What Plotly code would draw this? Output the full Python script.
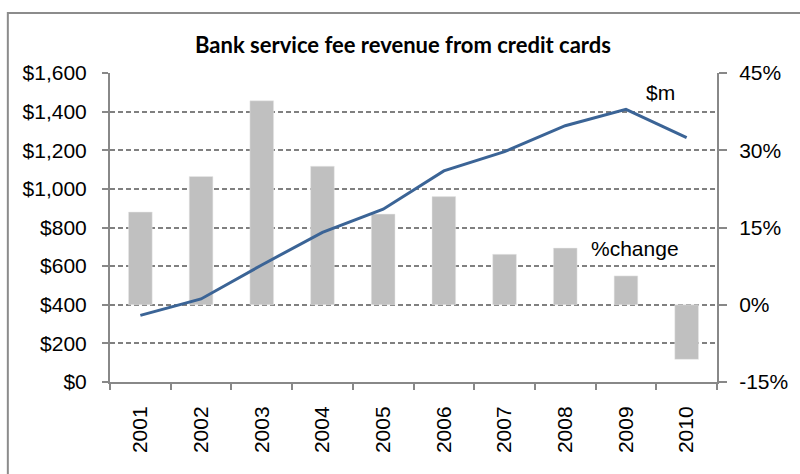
import plotly.graph_objects as go

years = ["2001", "2002", "2003", "2004", "2005", "2006", "2007", "2008", "2009", "2010"]
revenue_m = [345, 430, 606, 775, 895, 1093, 1193, 1327, 1412, 1265]
pct_change = [18.0, 24.9, 39.6, 26.9, 17.6, 21.0, 9.8, 11.0, 5.6, -10.6]

left_ticks = [0, 200, 400, 600, 800, 1000, 1200, 1400, 1600]
left_labels = ["$0", "$200", "$400", "$600", "$800", "$1,000", "$1,200", "$1,400", "$1,600"]
right_ticks = [-15, 0, 15, 30, 45]
right_labels = ["-15%", "0%", "15%", "30%", "45%"]

W, H = 800, 474
ML, MR, MT, MB = 110, 78, 73, 92
PW, PH = W - ML - MR, H - MT - MB

def px_x(x):
    return (x - ML) / PW

def px_y(y):
    return (H - MB - y) / PH

AXIS = "#888888"
GRID = "#808080"
DASH = "5px,3px"
FONT = "Liberation Sans, Arial, sans-serif"
FS = 21

fig = go.Figure()
fig.add_trace(go.Bar(
    x=years, y=pct_change, yaxis="y",
    marker=dict(color="#C0C0C0", line=dict(color="#E8E8E8", width=0.5)),
    name="%change",
))
fig.add_trace(go.Scatter(
    x=years, y=revenue_m, yaxis="y2", mode="lines",
    line=dict(color="#3B6496", width=3),
    name="$m",
))

fig.update_layout(
    width=W, height=H,
    margin=dict(l=ML, r=MR, t=MT, b=MB),
    paper_bgcolor="white", plot_bgcolor="white",
    showlegend=False,
    bargap=0.61,
    font=dict(family=FONT, size=FS, color="black"),
    title=dict(
        text="<b>Bank service fee revenue from credit cards</b>",
        x=403 / W, xanchor="center", y=1 - 45 / H, yanchor="middle",
        font=dict(family="Lato, Open Sans, sans-serif", size=22, color="black"),
    ),
    xaxis=dict(
        type="category", showline=True, linecolor=AXIS, linewidth=2,
        ticks="outside", tickson="boundaries", ticklen=6, tickcolor=AXIS, tickwidth=2,
        tickangle=-90, tickfont=dict(size=FS), showgrid=False,
        ticklabelstandoff=14,
        range=[-0.5, 9.5],
    ),
    yaxis=dict(
        side="right", range=[-15, 45], tickvals=right_ticks, ticktext=right_labels,
        showline=True, linecolor=AXIS, linewidth=2,
        ticks="outside", ticklen=8, tickcolor=AXIS, tickwidth=2,
        showgrid=True, gridcolor=GRID, gridwidth=1.5, griddash=DASH,
        minor=dict(tick0=-15, dtick=7.5, ticks="", showgrid=True,
                   gridcolor=GRID, gridwidth=1.5, griddash=DASH),
        zeroline=False, tickfont=dict(size=FS), ticklabelstandoff=8,
    ),
    yaxis2=dict(
        side="left", overlaying="y", range=[0, 1600],
        tickvals=left_ticks, ticktext=left_labels,
        showline=True, linecolor=AXIS, linewidth=2,
        ticks="outside", ticklen=6, tickcolor=AXIS, tickwidth=2,
        showgrid=False, zeroline=False, tickfont=dict(size=FS),
        ticklabelstandoff=11,
    ),
    shapes=[dict(
        type="rect", xref="paper", yref="paper",
        x0=px_x(7), x1=px_x(W + 20), y0=px_y(H + 20), y1=px_y(13),
        line=dict(color="#8C8C8C", width=2), fillcolor="rgba(0,0,0,0)",
        layer="below",
    )],
    annotations=[
        dict(text="$m", x=px_x(665), y=px_y(92), xref="paper", yref="paper",
             xanchor="center", yanchor="middle",
             showarrow=False, font=dict(size=FS)),
        dict(text="%change", x=px_x(639), y=px_y(248), xref="paper", yref="paper",
             xanchor="center", yanchor="middle",
             showarrow=False, font=dict(size=FS)),
    ],
)

fig.write_html("out.html")
